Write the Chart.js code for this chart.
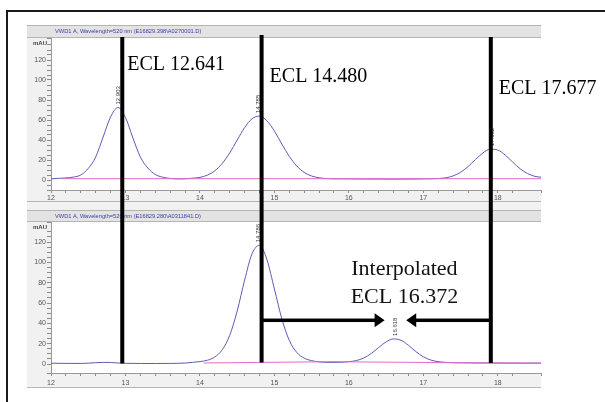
<!DOCTYPE html>
<html>
<head>
<meta charset="utf-8">
<script src="https://cdn.jsdelivr.net/npm/chart.js@4.4.1/dist/chart.umd.min.js"></script>
<style>
    body { margin: 0; background: #fff; width: 605px; height: 402px; overflow: hidden; position: relative; }
    #frame { position: absolute; left: 6px; top: 10px; width: 700px; height: 500px; border: 2px solid #1a1a1a; }
    #topChart { position: absolute; left: 27px; top: 25px; }
    #bottomChart { position: absolute; left: 27px; top: 202px; }
</style>
</head>
<body>
<div id="frame"></div>
<canvas id="topChart" width="578" height="177"></canvas>
<canvas id="bottomChart" width="578" height="188"></canvas>
<script>
// upper run: retention time (min) and signal (mAU)
const topTimes = [12.0, 12.1, 12.2, 12.3, 12.4, 12.5, 12.6, 12.7, 12.8, 12.9, 13.0, 13.1, 13.2, 13.3, 13.4, 13.5, 13.6, 13.7, 13.8, 13.9,
    14.0, 14.1, 14.2, 14.3, 14.4, 14.5, 14.6, 14.7, 14.8, 14.9, 15.0, 15.1, 15.2, 15.3, 15.4, 15.5, 15.6, 15.7, 15.8, 16.0,
    16.3, 16.6, 16.9, 17.1, 17.2, 17.3, 17.4, 17.5, 17.6, 17.7, 17.8, 17.9, 18.0, 18.1, 18.2, 18.3, 18.4, 18.5, 18.58];
const topSignal = [1.2, 1.6, 2.1, 2.9, 5.0, 11.5, 23, 43, 63, 72.5, 62.5, 42, 23, 12, 5.5, 2.8, 1.6, 1.1, 1.2, 1.8,
    2.6, 4.9, 9.2, 16.6, 27.1, 39.9, 52.4, 61.3, 63.9, 59.2, 48.9, 35.9, 23.6, 14.0, 7.6, 4.0, 2.2, 1.4, 1.2, 1.1,
    1.0, 0.9, 1.0, 1.2, 1.5, 2.2, 4.1, 7.7, 13.4, 20.5, 27.1, 30.8, 29.9, 24.9, 17.9, 11.2, 6.4, 3.6, 2.8];
const topBaseTimes = [12.15, 18.58];
const topBaseline = [1.3, 1.3];

// lower run
const bottomTimes = [12.0, 12.2, 12.4, 12.5, 12.6, 12.7, 12.8, 12.9, 13.0, 13.2, 13.4, 13.6, 13.8, 13.9,
    14.0, 14.1, 14.2, 14.3, 14.4, 14.5, 14.6, 14.7, 14.8, 14.9, 15.0, 15.1, 15.2, 15.3, 15.4, 15.5, 15.6, 15.7, 15.8, 15.9,
    16.0, 16.1, 16.2, 16.3, 16.4, 16.5, 16.6, 16.7, 16.8, 16.9, 17.0, 17.1, 17.2, 17.3, 17.4, 17.6, 17.8, 18.0, 18.2, 18.4, 18.58];
const bottomSignal = [0.8, 0.6, 0.6, 0.8, 1.3, 1.6, 1.5, 1.0, 0.7, 0.5, 0.5, 0.6, 0.9, 1.6,
    2.4, 3.7, 6.9, 14.0, 28.2, 52.1, 82.5, 108.5, 116.8, 102.5, 73.8, 44.4, 23.2, 11.4, 5.8, 3.3, 2.1, 1.6, 1.6, 1.7,
    2.3, 3.4, 5.9, 10.3, 16.2, 21.8, 24.7, 23.3, 18.4, 12.2, 7.1, 3.9, 2.3, 1.6, 1.3, 1.1, 1.0, 0.9, 0.8, 0.8, 0.9];
const bottomBaseTimes = [14.05, 15.8, 16.2, 17.4, 18.58];
const bottomBaseline = [1.0, 2.3, 2.0, 1.3, 0.9];

// peak annotations
const topPeakTimes = [12.903, 14.785, 17.932];
const topPeakLabels = ['12.903', '14.785', '17.932'];
const bottomPeakTimes = [14.786, 16.618];
const bottomPeakLabels = ['14.786', '16.618'];

// reference markers
const eclTimes = [12.957, 14.828, 17.906];
const eclLabels = ['ECL 12.641', 'ECL 14.480', 'ECL 17.677'];
const arrowLevel = 43;
const arrowTips = [16.48, 16.77];
const interpolatedText = ['Interpolated', 'ECL 16.372'];

const topHeader = 'VWD1 A, Wavelength=520 nm (E16829.398\\A0270001.D)';
const bottomHeader = 'VWD1 A, Wavelength=520 nm (E16829.280\\A0311841.D)';

const serif = '"Liberation Serif", "Times New Roman", serif';

function series(times, values) {
    return times.map((t, i) => ({ x: t, y: values[i] }));
}

function makeScales(yMin, yMax, xHeight, xPad) {
    return {
        x: {
            type: 'linear',
            min: 12,
            max: 18.58,
            border: { color: '#9a9a9a' },
            grid: { drawOnChartArea: false, tickLength: 3, color: '#8c8c8c' },
            ticks: {
                stepSize: 0.2,
                autoSkip: false,
                maxRotation: 0,
                padding: xPad,
                color: '#555',
                font: { family: 'Arial', size: 7 },
                callback: v => Math.abs(v - Math.round(v)) < 1e-6 ? String(Math.round(v)) : ''
            },
            afterFit: s => { s.height = xHeight; }
        },
        y: {
            min: yMin,
            max: yMax,
            border: { color: '#9a9a9a' },
            grid: { drawOnChartArea: false, tickLength: 4, color: '#8c8c8c' },
            ticks: {
                stepSize: 5,
                autoSkip: false,
                padding: 1,
                color: '#555',
                font: { family: 'Arial', size: 7 },
                callback: v => (v >= 0 && v <= 120 && Math.abs(v % 20) < 1e-6) ? String(v) : ''
            },
            afterFit: s => { s.width = 24; }
        }
    };
}

function traceDatasets(times, values, baseTimes, baseValues) {
    return [
        {
            data: series(baseTimes, baseValues),
            borderColor: '#e46ac8',
            borderWidth: 1,
            pointRadius: 0
        },
        {
            data: series(times, values),
            borderColor: '#5c5cb4',
            borderWidth: 1,
            pointRadius: 0,
            cubicInterpolationMode: 'monotone'
        }
    ];
}

// grey instrument panel round the white plot area
function panelPlugin(headerText, headerTop, bottomEdge) {
    return {
        id: 'panel',
        beforeDraw(chart) {
            const ctx = chart.ctx;
            const a = chart.chartArea;
            ctx.save();
            ctx.fillStyle = '#f1f1f1';
            ctx.fillRect(0, 0, a.right, bottomEdge);
            ctx.fillStyle = '#e3e3e3';
            ctx.fillRect(0, headerTop, a.right, a.top - headerTop);
            ctx.strokeStyle = '#b4b4b4';
            ctx.lineWidth = 1;
            ctx.beginPath();
            ctx.moveTo(0, headerTop + 0.5); ctx.lineTo(a.right, headerTop + 0.5);
            ctx.moveTo(0, a.top - 0.5); ctx.lineTo(a.right, a.top - 0.5);
            ctx.moveTo(0, bottomEdge - 0.5); ctx.lineTo(a.right, bottomEdge - 0.5);
            ctx.stroke();
            ctx.fillStyle = '#fff';
            ctx.fillRect(a.left, a.top, a.right - a.left, a.bottom - a.top);
            ctx.fillStyle = '#3b3ba6';
            ctx.font = '5.7px Arial';
            ctx.textBaseline = 'middle';
            ctx.fillText(headerText, 28, (headerTop + a.top) / 2);
            ctx.fillStyle = '#444';
            ctx.font = 'bold 6px Arial';
            ctx.fillText('mAU', 6, a.top + 5);
            ctx.restore();
        }
    };
}

function drawPeakLabels(chart, peakTimes, peakLabels, times, values) {
    const ctx = chart.ctx;
    const x = chart.scales.x;
    const y = chart.scales.y;
    ctx.save();
    ctx.fillStyle = '#333';
    ctx.font = '6px Arial';
    ctx.textAlign = 'left';
    ctx.textBaseline = 'middle';
    peakTimes.forEach((t, i) => {
        let h = 0;
        times.forEach((tt, j) => { if (Math.abs(tt - t) < 0.15) h = Math.max(h, values[j]); });
        ctx.save();
        ctx.translate(x.getPixelForValue(t), y.getPixelForValue(h) - 3);
        ctx.rotate(-Math.PI / 2);
        ctx.fillText(peakLabels[i], 0, 0);
        ctx.restore();
    });
    ctx.restore();
}

const topOverlay = {
    id: 'topOverlay',
    afterDatasetsDraw(chart) {
        const ctx = chart.ctx;
        const x = chart.scales.x;
        const a = chart.chartArea;
        drawPeakLabels(chart, topPeakTimes, topPeakLabels, topTimes, topSignal);
        ctx.save();
        ctx.fillStyle = '#000';
        const starts = [12, 10, 12];
        const drops = [32, 44, 56];
        const gaps = [5, 8, 8];
        eclTimes.forEach((t, i) => {
            const px = x.getPixelForValue(t);
            ctx.fillRect(px - 2, starts[i], 4, chart.height - starts[i]);
            ctx.font = '20px ' + serif;
            ctx.textBaseline = 'alphabetic';
            ctx.fillText(eclLabels[i], px + gaps[i], a.top + drops[i]);
        });
        ctx.restore();
    }
};

const bottomOverlay = {
    id: 'bottomOverlay',
    afterDatasetsDraw(chart) {
        const ctx = chart.ctx;
        const x = chart.scales.x;
        const y = chart.scales.y;
        drawPeakLabels(chart, bottomPeakTimes, bottomPeakLabels, bottomTimes, bottomSignal);
        ctx.save();
        ctx.fillStyle = '#000';
        const ends = [0.5, 1.5, 1];
        eclTimes.forEach((t, i) => {
            const px = x.getPixelForValue(t);
            ctx.fillRect(px - 2, 0, 4, y.getPixelForValue(ends[i]));
        });
        // arrows from the neighbouring markers towards the unknown peak
        const ay = y.getPixelForValue(arrowLevel);
        const left = x.getPixelForValue(eclTimes[1]);
        const right = x.getPixelForValue(eclTimes[2]);
        const tipL = x.getPixelForValue(arrowTips[0]);
        const tipR = x.getPixelForValue(arrowTips[1]);
        ctx.fillRect(left, ay - 1.75, tipL - 9 - left, 3.5);
        ctx.fillRect(tipR + 9, ay - 1.75, right - tipR - 9, 3.5);
        ctx.beginPath();
        ctx.moveTo(tipL, ay); ctx.lineTo(tipL - 10, ay - 7); ctx.lineTo(tipL - 10, ay + 7); ctx.closePath();
        ctx.moveTo(tipR, ay); ctx.lineTo(tipR + 10, ay - 7); ctx.lineTo(tipR + 10, ay + 7); ctx.closePath();
        ctx.fill();
        ctx.fillStyle = '#111';
        ctx.font = '22px ' + serif;
        ctx.textAlign = 'center';
        ctx.textBaseline = 'alphabetic';
        const cx = (tipL + tipR) / 2 + 9;
        ctx.fillText(interpolatedText[0], cx, ay - 45);
        ctx.fillText(interpolatedText[1], cx, ay - 17);
        ctx.restore();
    }
};

function createChart(id, datasets, scales, padding, plugins) {
    const ctx = document.getElementById(id).getContext('2d');
    return new Chart(ctx, {
        type: 'line',
        data: { datasets: datasets },
        options: {
            responsive: false,
            animation: false,
            events: [],
            layout: { padding: padding },
            plugins: { legend: { display: false }, tooltip: { enabled: false } },
            scales: scales
        },
        plugins: plugins
    });
}

createChart('topChart',
    traceDatasets(topTimes, topSignal, topBaseTimes, topBaseline),
    makeScales(-10, 142, 12, 1),
    { top: 13, right: 64, left: 0, bottom: 0 },
    [panelPlugin(topHeader, 0, 177), topOverlay]);

createChart('bottomChart',
    traceDatasets(bottomTimes, bottomSignal, bottomBaseTimes, bottomBaseline),
    makeScales(-8.85, 139.7, 17, 3),
    { top: 20, right: 64, left: 0, bottom: 0 },
    [panelPlugin(bottomHeader, 8, 186), bottomOverlay]);
</script>
</body>
</html>
